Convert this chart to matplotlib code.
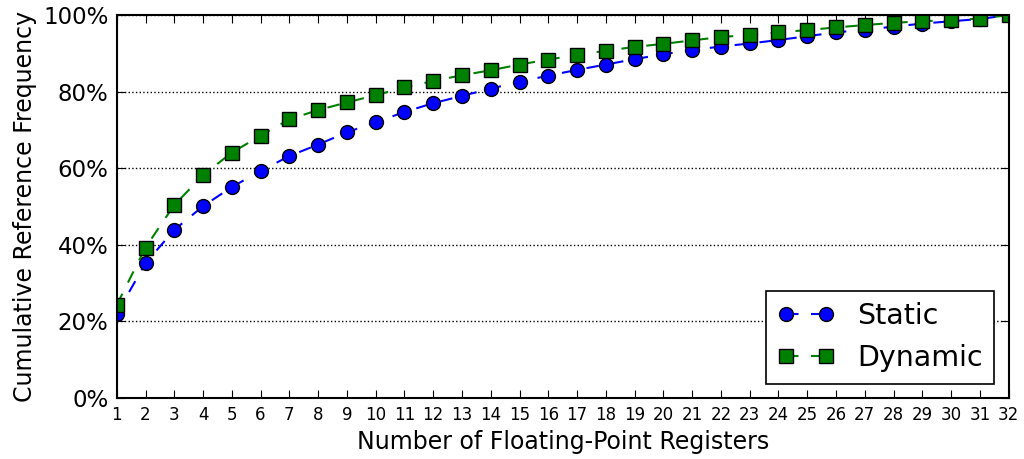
import matplotlib

matplotlib.use("Agg")
import matplotlib.pyplot as plt
from matplotlib.ticker import FuncFormatter

# Cumulative reference frequency (%) by number of FP registers
registers = list(range(1, 33))
static = [22.0, 35.2, 43.9, 50.1, 55.1, 59.3, 63.2, 66.2, 69.4, 72.0, 74.7, 77.0,
          78.9, 80.8, 82.6, 84.2, 85.7, 87.1, 88.5, 89.8, 90.9, 91.8, 92.6, 93.5,
          94.5, 95.5, 96.2, 97.0, 97.8, 98.4, 99.0, 100.0]
dynamic = [24.3, 39.3, 50.4, 58.2, 64.1, 68.5, 72.8, 75.2, 77.2, 79.1, 81.1, 82.8,
           84.3, 85.6, 87.1, 88.4, 89.6, 90.7, 91.7, 92.5, 93.4, 94.3, 94.8, 95.5,
           96.1, 96.8, 97.4, 98.0, 98.4, 98.7, 99.1, 100.0]

fig = plt.figure(figsize=(10.24, 4.59), dpi=100)
ax = fig.add_axes([0.114, 0.133, 0.871, 0.834])

ax.plot(registers, static, "--o", color="blue", markersize=10, lw=1.5, dashes=(6, 6),
        markeredgecolor="black", markeredgewidth=1.0, label="Static")
ax.plot(registers, dynamic, "--s", color="green", markersize=10, lw=1.5, dashes=(6, 6),
        markeredgecolor="black", markeredgewidth=1.0, label="Dynamic")

ax.set_xlim(1, 32)
ax.set_ylim(0, 100)
ax.set_xticks(registers)
ax.set_yticks(range(0, 101, 20))
ax.yaxis.set_major_formatter(FuncFormatter(lambda v, _: f"{v:.0f}%"))
ax.tick_params(axis="x", labelsize=12, direction="in", top=True, length=6, pad=6)
ax.tick_params(axis="y", labelsize=16.5, direction="in", right=True, length=6, pad=6)
ax.yaxis.grid(True, linestyle=":", color="black", linewidth=1.0)
for s in ax.spines.values():
    s.set_linewidth(1.5)

ax.set_xlabel("Number of Floating-Point Registers", fontsize=17)
ax.set_ylabel("Cumulative Reference Frequency", fontsize=17)

leg = ax.legend(loc="lower right", fontsize=20.5, numpoints=2, fancybox=False,
                framealpha=1, edgecolor="black", borderaxespad=0.5)
leg.get_frame().set_linewidth(1.2)

fig.savefig("out.png", dpi=100, facecolor="white")
